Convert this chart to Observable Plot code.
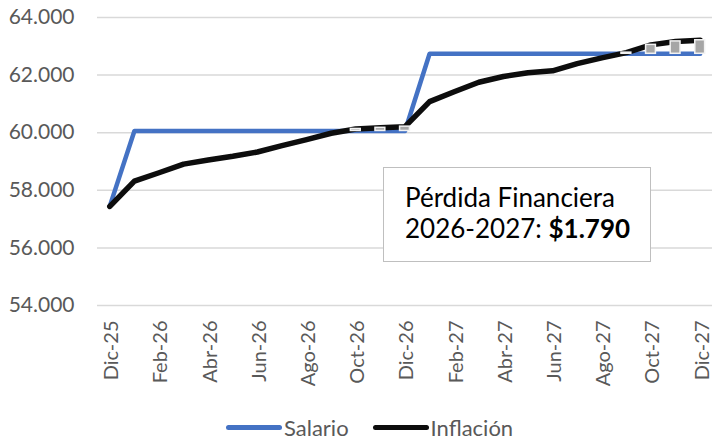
<!DOCTYPE html>
<html>
<head>
<meta charset="utf-8">
<script src="https://cdn.jsdelivr.net/npm/d3@7"></script>
<script src="https://cdn.jsdelivr.net/npm/@observablehq/plot@0.6"></script>
<style>
  html, body { margin: 0; padding: 0; background: #fff; }
  #wrap { position: relative; width: 712px; height: 442px; font-family: Lato, sans-serif; overflow: hidden; }
  #chart svg { overflow: visible; }
  #note { position: absolute; left: 383px; top: 167px; width: 266px; height: 93px; border: 1.5px solid #bfbfbf; background: #fff; box-sizing: content-box; color: #000; font-size: 26px; }
  #note .l1 { position: absolute; left: 21px; top: 13px; white-space: nowrap; }
  #note .l2 { position: absolute; left: 21px; top: 44px; white-space: nowrap; }
  #legend { position: absolute; left: 226px; top: 412px; height: 30px; display: flex; align-items: center; font-size: 22px; color: #595959; }
  .sw { display: inline-block; width: 56px; height: 5px; border-radius: 3px; margin-right: 2px; }
  .item { display: flex; align-items: center; margin-right: 24px; }
</style>
</head>
<body>
<div id="wrap">
  <div id="chart"></div>
  <div id="note"><div class="l1">Pérdida Financiera</div><div class="l2">2026-2027: <b>$1.790</b></div></div>
  <div id="legend"></div>
</div>
<script>
const months = ["Dic-25","Ene-26","Feb-26","Mar-26","Abr-26","May-26","Jun-26","Jul-26","Ago-26","Sep-26","Oct-26","Nov-26","Dic-26","Ene-27","Feb-27","Mar-27","Abr-27","May-27","Jun-27","Jul-27","Ago-27","Sep-27","Oct-27","Nov-27","Dic-27"];
const salario = [57450, 60060, 60060, 60060, 60060, 60060, 60060, 60060, 60060, 60060, 60060, 60060, 60060, 62740, 62740, 62740, 62740, 62740, 62740, 62740, 62740, 62740, 62740, 62740, 62740];
const inflacion = [57440, 58320, 58610, 58910, 59050, 59180, 59330, 59550, 59760, 59980, 60130, 60170, 60210, 61080, 61420, 61750, 61950, 62080, 62150, 62400, 62600, 62780, 63050, 63170, 63210];
const yTicks = [54000, 56000, 58000, 60000, 62000, 64000];
const xTickIdx = [0, 2, 4, 6, 8, 10, 12, 14, 16, 18, 20, 22, 24];
const seriesNames = ["Salario", "Inflación"];
const seriesColors = ["#4472C4", "#0d0d0d"];

const data = months.map((m, i) => ({i, m, salario: salario[i], inflacion: inflacion[i]}));
const gap = data.filter(d => d.inflacion > d.salario);
const fmt = d3.formatLocale({decimal: ",", thousands: ".", grouping: [3], currency: ["$", ""]}).format(",");

const chart = Plot.plot({
  width: 712,
  height: 400,
  marginLeft: 97,
  marginRight: 0,
  marginTop: 17,
  marginBottom: 95,
  style: {fontFamily: "Lato, sans-serif", fontSize: "21px", color: "#595959", background: "#fff", overflow: "visible"},
  x: {domain: [-0.5, 24.5], axis: null},
  y: {domain: [54000, 64000], axis: null},
  marks: [
    Plot.ruleY(yTicks, {stroke: "#d9d9d9", strokeWidth: 1.5}),
    Plot.axisY(yTicks, {tickSize: 0, tickPadding: 23, tickFormat: fmt, fontSize: 21, fill: "#595959", label: null}),
    Plot.axisX(xTickIdx, {tickSize: 0, tickPadding: 15, tickRotate: -90, tickFormat: i => months[i], fontSize: 20, fill: "#595959", dx: 2, label: null}),
    Plot.line(data, {x: "i", y: "salario", stroke: seriesColors[0], strokeWidth: 4.5, strokeLinejoin: "round", strokeLinecap: "round"}),
    Plot.line(data, {x: "i", y: "inflacion", stroke: seriesColors[1], strokeWidth: 5.5, strokeLinejoin: "round", strokeLinecap: "round"}),
    Plot.rect(gap, {x1: d => d.i - 0.2, x2: d => d.i + 0.2, y1: "salario", y2: "inflacion", fill: "#a6a6a6", stroke: "#f2f2f2", strokeWidth: 1.5})
  ]
});
document.getElementById("chart").appendChild(chart);

const legend = document.getElementById("legend");
seriesNames.forEach((n, k) => {
  const it = document.createElement("div");
  it.className = "item";
  it.innerHTML = `<span class="sw" style="background:${seriesColors[k]}"></span><span>${n}</span>`;
  legend.appendChild(it);
});
</script>
</body>
</html>
